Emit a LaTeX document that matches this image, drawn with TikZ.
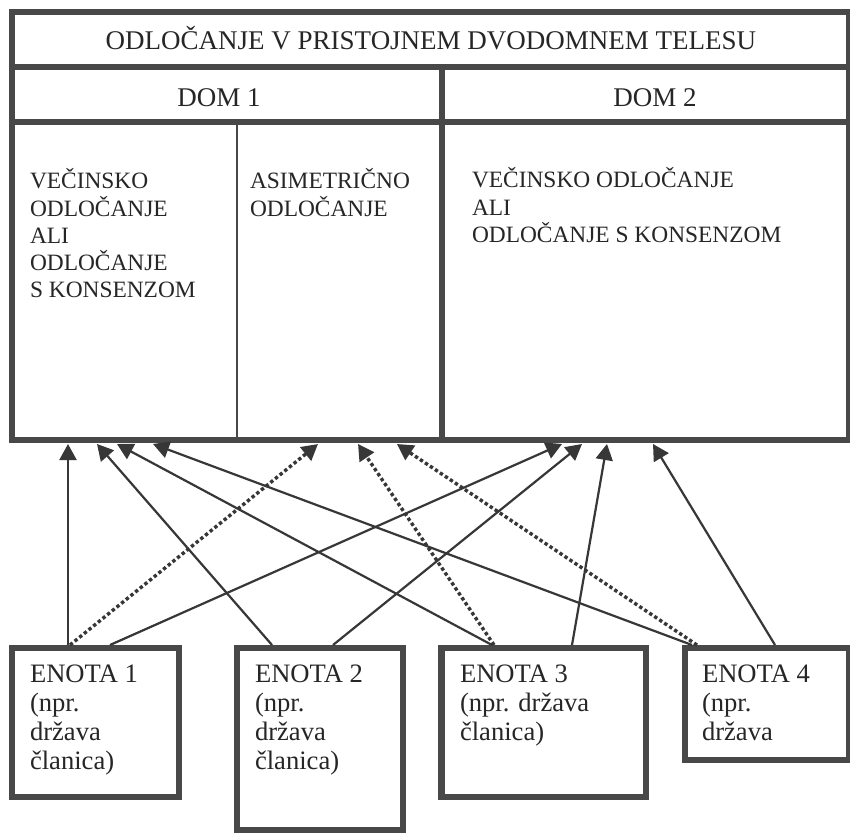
\documentclass[tikz,border=0pt]{standalone}
\usepackage{fontspec}
\setmainfont{Liberation Serif}
\usetikzlibrary{arrows.meta,calc}
\definecolor{frm}{RGB}{72,72,72}
\definecolor{arr}{RGB}{55,55,55}
\definecolor{txt}{RGB}{38,38,38}
\begin{document}
\begin{tikzpicture}[x=0.5pt,y=-0.5pt,
  frame/.style={draw=frm,line width=3.2pt,outer sep=0pt,inner sep=0pt,anchor=north west,rectangle},
  lbl/.style={text=txt,inner sep=0pt,outer sep=0pt},
  conn/.style={draw=arr,line width=1.1pt,-{Triangle[length=8pt,width=8.5pt]}},
  dconn/.style={conn,line width=1.7pt,dash pattern=on 1.7pt off 1.3pt},
  headfont/.style={font=\fontsize{13.5}{16}\selectfont},
  bodyfont/.style={font=\fontsize{11.7}{13.6}\selectfont},
  unitfont/.style={font=\fontsize{13.3}{14.5}\selectfont}]
\useasboundingbox (0,0) rectangle (850,833);
\fill[white] (0,0) rectangle (850,833);

% upper table
\node[frame,minimum width=837.5*0.5pt,minimum height=55*0.5pt] (title) at (12,12) {};
\node[frame,minimum width=430*0.5pt,minimum height=55*0.5pt] (d1h) at (12,67) {};
\node[frame,minimum width=407.5*0.5pt,minimum height=55*0.5pt] (d2h) at (442,67) {};
\node[frame,minimum width=430*0.5pt,minimum height=318*0.5pt] (b1) at (12,122) {};
\node[frame,minimum width=407.5*0.5pt,minimum height=318*0.5pt] (b2) at (442,122) {};
\draw[draw=frm,line width=1pt] ($(b1.north west)+(225,0)$) -- ($(b1.south west)+(225,0)$);

\node[lbl,headfont,anchor=base] (ttl) at (431,50) {ODLOČANJE V PRISTOJNEM DVODOMNEM TELESU};
\node[lbl,headfont,anchor=base] (dom1) at (219,107) {DOM 1};
\node[lbl,headfont,anchor=base] (dom2) at (655,107) {DOM 2};

\node[lbl,bodyfont,anchor=base west] (txa) at (30,189)
  {\vtop{\hbox{VEČINSKO}\hbox{ODLOČANJE}\hbox{ALI}\hbox{ODLOČANJE}\hbox{S KONSENZOM}}};
\node[lbl,bodyfont,anchor=base west] (txb) at (250,189)
  {\vtop{\hbox{ASIMETRIČNO}\hbox{ODLOČANJE}}};
\node[lbl,bodyfont,anchor=base west] (txc) at (472,188)
  {\vtop{\hbox{VEČINSKO ODLOČANJE}\hbox{ALI}\hbox{ODLOČANJE S KONSENZOM}}};

% units
\node[frame,minimum width=167*0.5pt,minimum height=149*0.5pt] (e1) at (12,648) {};
\node[frame,minimum width=166*0.5pt,minimum height=182*0.5pt] (e2) at (237,648) {};
\node[frame,minimum width=204.5*0.5pt,minimum height=149*0.5pt] (e3) at (441.5,648) {};
\node[frame,minimum width=164.5*0.5pt,minimum height=112*0.5pt] (e4) at (685,648) {};

\node[lbl,unitfont,anchor=base west] (u1) at (30,682)
  {\vtop{\hbox{ENOTA 1}\hbox{(npr.}\hbox{država}\hbox{članica)}}};
\node[lbl,unitfont,anchor=base west] (u2) at (255,682)
  {\vtop{\hbox{ENOTA 2}\hbox{(npr.}\hbox{država}\hbox{članica)}}};
\node[lbl,unitfont,anchor=base west] (u3) at (460,682)
  {\vtop{\hbox{ENOTA 3}\hbox{(npr. država}\hbox{članica)}}};
\node[lbl,unitfont,anchor=base west] (u4) at (702,682)
  {\vtop{\hbox{ENOTA 4}\hbox{(npr.}\hbox{država}}};

% connectors
\draw[conn]  ($(e1.north west)+(56,-3)$)   -- ($(b1.south west)+(56,4)$);
\draw[dconn] ($(e1.north west)+(58,-3)$)   -- ($(b1.south west)+(306,4)$);
\draw[conn]  ($(e1.north west)+(98,-3)$)   -- ($(b2.south west)+(120,4)$);
\draw[conn]  ($(e2.north west)+(35,-3)$)   -- ($(b1.south west)+(85,4)$);
\draw[conn]  ($(e2.north west)+(96,-3)$)   -- ($(b2.south west)+(140,4)$);
\draw[conn]  ($(e3.north west)+(50.5,-3)$) -- ($(b1.south west)+(105,4)$);
\draw[dconn] ($(e3.north west)+(52.5,-3)$) -- ($(b1.south west)+(346,4)$);
\draw[conn]  ($(e3.north west)+(130.5,-3)$) -- ($(b2.south west)+(165,4)$);
\draw[conn]  ($(e4.north west)+(7,-3)$)    -- ($(b1.south west)+(141,4)$);
\draw[dconn] ($(e4.north west)+(12,-3)$)   -- ($(b1.south west)+(385,4)$);
\draw[conn]  ($(e4.north west)+(90,-3)$)   -- ($(b2.south west)+(211,4)$);
\end{tikzpicture}
\end{document}
